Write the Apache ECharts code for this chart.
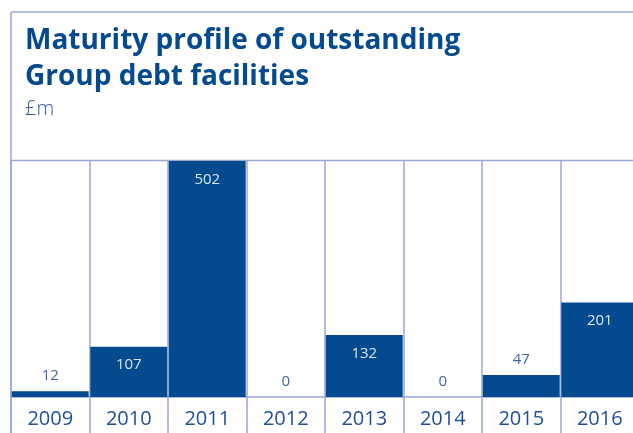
<!DOCTYPE html>
<html>
<head>
<meta charset="utf-8">
<script src="https://cdn.jsdelivr.net/npm/echarts@6/dist/echarts.min.js"></script>
<style>
  html, body { margin: 0; padding: 0; background: #ffffff; }
  #chart { width: 633px; height: 433px; }
</style>
</head>
<body>
<div id="chart"></div>
<script>
// Debt maturing in each year, £m
const years = ['2009', '2010', '2011', '2012', '2013', '2014', '2015', '2016'];
const maturities = [12, 107, 502, 0, 132, 0, 47, 201];

const NAVY = '#044a8e';
const RULE = '#9ba7d3';
const FONT = '"Open Sans", "Noto Sans", sans-serif';

// Large bars carry their value inside, small ones above the bar
const INSIDE_FROM = 100;

const barData = maturities.map(v => ({
  value: v,
  label: v >= INSIDE_FROM
    ? { position: 'insideTop', distance: 11, color: '#dbe4f1' }
    : { position: 'top', distance: 8, color: '#3f67a5' }
}));

const chart = echarts.init(document.getElementById('chart'), null, { renderer: 'canvas' });

chart.setOption({
  animation: false,
  backgroundColor: '#ffffff',
  title: {
    text: 'Maturity profile of outstanding\nGroup debt facilities',
    subtext: '£m',
    left: 20,
    top: 18,
    itemGap: 4,
    textStyle: {
      fontFamily: FONT,
      fontSize: 28,
      fontWeight: 'bold',
      lineHeight: 36,
      color: NAVY
    },
    subtextStyle: {
      fontFamily: FONT,
      fontSize: 20,
      fontWeight: 300,
      color: '#2b5b9c'
    }
  },
  // The last column runs past the right edge of the panel
  grid: { left: 11, width: 628, top: 161, bottom: 36, outerBoundsMode: 'none', containLabel: false },
  xAxis: {
    type: 'category',
    data: years,
    boundaryGap: true,
    axisLine: { show: true, lineStyle: { color: RULE, width: 1.5 } },
    axisTick: { show: true, length: 40, lineStyle: { color: RULE, width: 1.5 } },
    splitLine: { show: true, interval: 0, lineStyle: { color: RULE, width: 1.5 } },
    axisLabel: {
      interval: 0,
      margin: 12,
      fontFamily: FONT,
      fontSize: 20,
      color: '#1f4f95'
    }
  },
  yAxis: {
    type: 'value',
    min: 0,
    max: 502,
    show: false,
    splitLine: { show: false }
  },
  series: [{
    type: 'bar',
    data: barData,
    barCategoryGap: 0,
    barWidth: '98%',
    itemStyle: { color: NAVY },
    label: {
      show: true,
      fontFamily: FONT,
      fontSize: 15,
      fontWeight: 'normal'
    },
    z: 1
  }],
  // Panel frame: top edge, left edge and the rule under the heading
  graphic: [
    { type: 'line', shape: { x1: 11, y1: 12, x2: 633, y2: 12 }, style: { stroke: RULE, lineWidth: 1.5 } },
    { type: 'line', shape: { x1: 11, y1: 12, x2: 11, y2: 433 }, style: { stroke: RULE, lineWidth: 1.5 } },
    { type: 'line', shape: { x1: 11, y1: 160.5, x2: 633, y2: 160.5 }, style: { stroke: RULE, lineWidth: 1.5 } }
  ]
});
</script>
</body>
</html>
